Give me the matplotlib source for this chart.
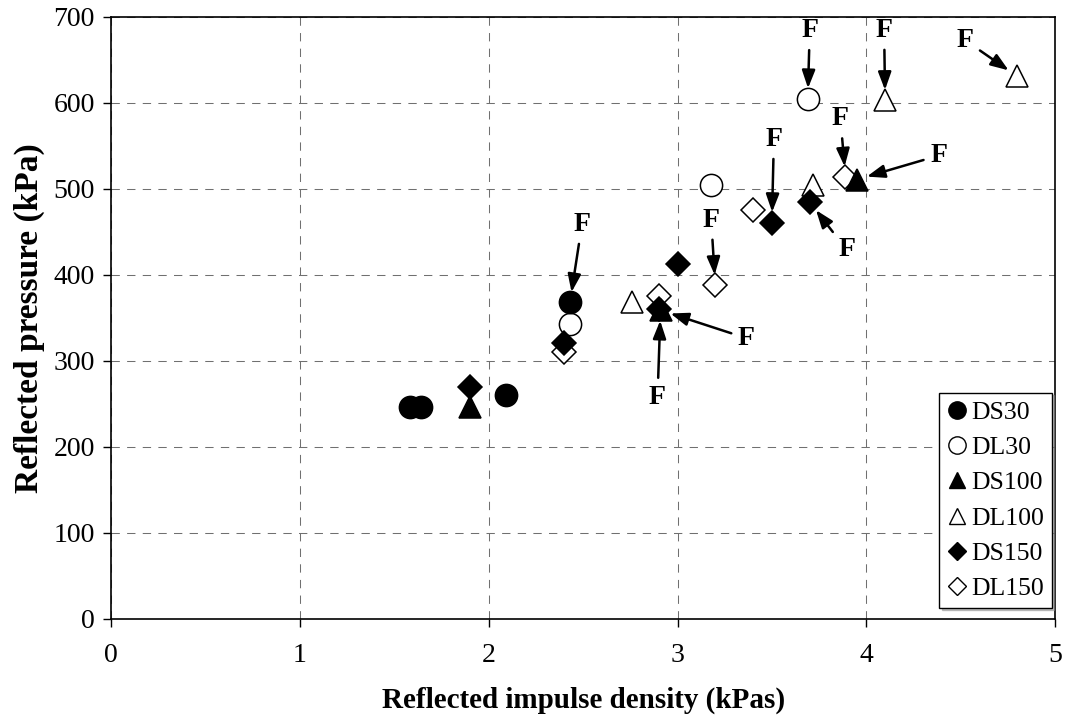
import matplotlib
matplotlib.use("Agg")
import matplotlib.pyplot as plt
from matplotlib.lines import Line2D

#### 00 data
ds30_x = [1.58, 1.64, 2.09, 2.43]
ds30_y = [246, 247, 261, 368]
dl30_x = [2.43, 3.18, 3.69]
dl30_y = [343, 505, 605]
ds100_x = [1.90, 2.91, 3.95]
ds100_y = [246, 359, 511]
dl100_x = [2.76, 3.72, 4.10, 4.80]
dl100_y = [368, 505, 603, 631]
ds150_x = [1.90, 2.40, 2.90, 3.00, 3.50, 3.70]
ds150_y = [270, 321, 361, 413, 461, 485]
dl150_x = [2.40, 2.90, 3.20, 3.40, 3.89]
dl150_y = [310, 375, 388, 476, 514]

x_ticks = [0, 1, 2, 3, 4, 5]
y_ticks = [0, 100, 200, 300, 400, 500, 600, 700]

# failure marks: (series, index of point, text offset dx, dy in pixels)
fail_marks = [
    ("DS30", 3, 12, 78),
    ("DS100", 1, -3, -87),
    ("DS100", 1, 86, -28),
    ("DL150", 2, -4, 65),
    ("DS150", 4, 2, 83),
    ("DS150", 5, 37, -48),
    ("DL150", 4, -5, 58),
    ("DS100", 2, 82, 24),
    ("DL30", 2, 2, 68),
    ("DL100", 2, -1, 70),
    ("DL100", 3, -52, 36),
]

#### 01 style
plt.rcParams["font.family"] = ["Liberation Serif", "DejaVu Serif"]
plt.rcParams["font.size"] = 20

fig = plt.figure(figsize = (10.65, 7.19), dpi = 100)
ax = fig.add_axes([0.1045, 0.1391, 0.8861, 0.8373])

px = 0.72  # points per pixel

series = {
    "DS30": (ds30_x, ds30_y, "o", "black", 16),
    "DL30": (dl30_x, dl30_y, "o", "white", 16),
    "DS100": (ds100_x, ds100_y, "^", "black", 15.5),
    "DL100": (dl100_x, dl100_y, "^", "white", 15.5),
    "DS150": (ds150_x, ds150_y, "D", "black", 12),
    "DL150": (dl150_x, dl150_y, "D", "white", 12),
}

# open markers first, filled on top
for name in ["DL30", "DL100", "DL150", "DS30", "DS100", "DS150"]:
    xs, ys, m, fc, ms = series[name]
    ax.plot(xs, ys, linestyle = "none", marker = m, markersize = ms,
            markerfacecolor = fc, markeredgecolor = "black", markeredgewidth = 1.1,
            zorder = 3 if fc == "white" else 4)

#### 02 failure arrows
for name, i, dx, dy in fail_marks:
    xs, ys = series[name][0], series[name][1]
    ax.annotate("F", xy = (xs[i], ys[i]), xytext = (dx * px, dy * px),
                textcoords = "offset points", ha = "center", va = "center",
                fontweight = "bold", fontsize = 20, zorder = 5,
                arrowprops = dict(arrowstyle = "-|>,head_length=0.6,head_width=0.22",
                                  mutation_scale = 18, lw = 1.8, color = "black",
                                  shrinkA = 3, shrinkB = 7.5))

#### 03 axes
ax.set_xlim(0, 5)
ax.set_ylim(0, 700)
ax.set_xticks(x_ticks)
ax.set_yticks(y_ticks)
ax.tick_params(direction = "out", length = 6, width = 1, top = False, right = False,
               labelsize = 20, pad = 11)
ax.tick_params(axis = "y", pad = 6)
for s in ax.spines.values():
    s.set_linewidth(1.2)
ax.grid(True, color = "#707070", linewidth = 0.75, linestyle = (0, (8, 7)))
ax.set_axisbelow(True)

ax.set_xlabel("Reflected impulse density (kPas)", fontweight = "bold", fontsize = 21, labelpad = 14)
ax.set_ylabel("Reflected pressure (kPa)", fontweight = "bold", fontsize = 24, labelpad = 6)

#### 04 legend
handles = []
for name in ["DS30", "DL30", "DS100", "DL100", "DS150", "DL150"]:
    xs, ys, m, fc, ms = series[name]
    handles.append(Line2D([], [], linestyle = "none", marker = m, markersize = ms * 0.78,
                          markerfacecolor = fc, markeredgecolor = "black",
                          markeredgewidth = 1.0, label = name))
leg = ax.legend(handles = handles, loc = "lower right", bbox_to_anchor = (0.997, 0.018),
                borderaxespad = 0, fancybox = False, framealpha = 1, edgecolor = "black",
                fontsize = 18.5, handlelength = 0.75, handletextpad = 0.2,
                labelspacing = 0.48, borderpad = 0.3,
                shadow = {"ox": 1.5, "oy": -1.5, "color": "0.55"})
leg.get_frame().set_linewidth(1.0)
leg.set_zorder(6)

plt.savefig("out.png", dpi = 100)
